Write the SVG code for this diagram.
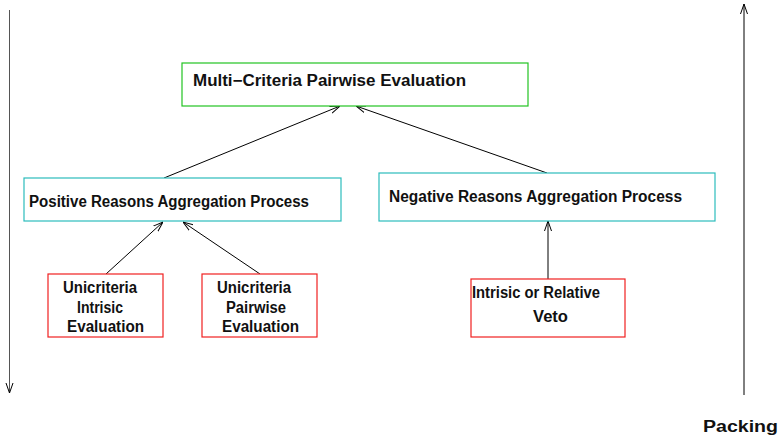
<svg xmlns="http://www.w3.org/2000/svg" width="780" height="436" viewBox="0 0 780 436">
<style>
text{font-family:"Liberation Sans",Arial,sans-serif;font-weight:bold;font-size:16px;fill:#111}
.g{fill:#fff;stroke:#22c322;stroke-width:1.2}
.c{fill:#fff;stroke:#2cbcbc;stroke-width:1.2}
.r{fill:#fff;stroke:#f02020;stroke-width:1.2}
.e{stroke:#000;stroke-width:1;fill:none;marker-end:url(#a)}
</style>
<defs>
<marker id="a" viewBox="0 0 10 10" refX="10" refY="5" markerWidth="10" markerHeight="10" markerUnits="userSpaceOnUse" orient="auto">
<path d="M0,1.5 L10,5 L0,8.5" fill="none" stroke="#000" stroke-width="1"/>
</marker>
</defs>
<rect width="780" height="436" fill="#fff"/>
<g id="connectors">
<line class="e" x1="164" y1="178" x2="340" y2="106"/>
<line class="e" x1="547" y1="173" x2="356" y2="106"/>
<line class="e" x1="106" y1="274" x2="163" y2="222"/>
<line class="e" x1="260" y1="274" x2="183" y2="222"/>
<line class="e" x1="548" y1="279" x2="548" y2="221"/>
<line class="e" style="stroke:#555" x1="9.5" y1="10" x2="9.5" y2="393"/>
<line class="e" x1="744" y1="395" x2="744" y2="4"/>
</g>
<g id="n-top">
<rect class="g" x="182" y="63" width="346" height="43"/>
<text x="193" y="86" textLength="273" lengthAdjust="spacingAndGlyphs">Multi−Criteria Pairwise Evaluation</text>
</g>
<g id="n-pos">
<rect class="c" x="24" y="178" width="317" height="43"/>
<text x="29" y="207" textLength="280" lengthAdjust="spacingAndGlyphs">Positive Reasons Aggregation Process</text>
</g>
<g id="n-neg">
<rect class="c" x="379" y="173" width="336" height="48"/>
<text x="389" y="202" textLength="293" lengthAdjust="spacingAndGlyphs">Negative Reasons Aggregation Process</text>
</g>
<g id="n-uie">
<rect class="r" x="48" y="274" width="115" height="63"/>
<text x="63" y="293" textLength="74" lengthAdjust="spacingAndGlyphs">Unicriteria</text>
<text x="77" y="313" textLength="46" lengthAdjust="spacingAndGlyphs">Intrisic</text>
<text x="67" y="332" textLength="77" lengthAdjust="spacingAndGlyphs">Evaluation</text>
</g>
<g id="n-upe">
<rect class="r" x="202" y="274" width="115" height="63"/>
<text x="217" y="293" textLength="74" lengthAdjust="spacingAndGlyphs">Unicriteria</text>
<text x="226" y="313" textLength="60" lengthAdjust="spacingAndGlyphs">Pairwise</text>
<text x="222" y="332" textLength="77" lengthAdjust="spacingAndGlyphs">Evaluation</text>
</g>
<g id="n-veto">
<rect class="r" x="471" y="279" width="154" height="58"/>
<text x="472" y="298" textLength="128" lengthAdjust="spacingAndGlyphs">Intrisic or Relative</text>
<text x="533" y="322" textLength="35" lengthAdjust="spacingAndGlyphs">Veto</text>
</g>
<g id="packing">
<text x="703" y="432" textLength="75" lengthAdjust="spacingAndGlyphs">Packing</text>
</g>
</svg>
